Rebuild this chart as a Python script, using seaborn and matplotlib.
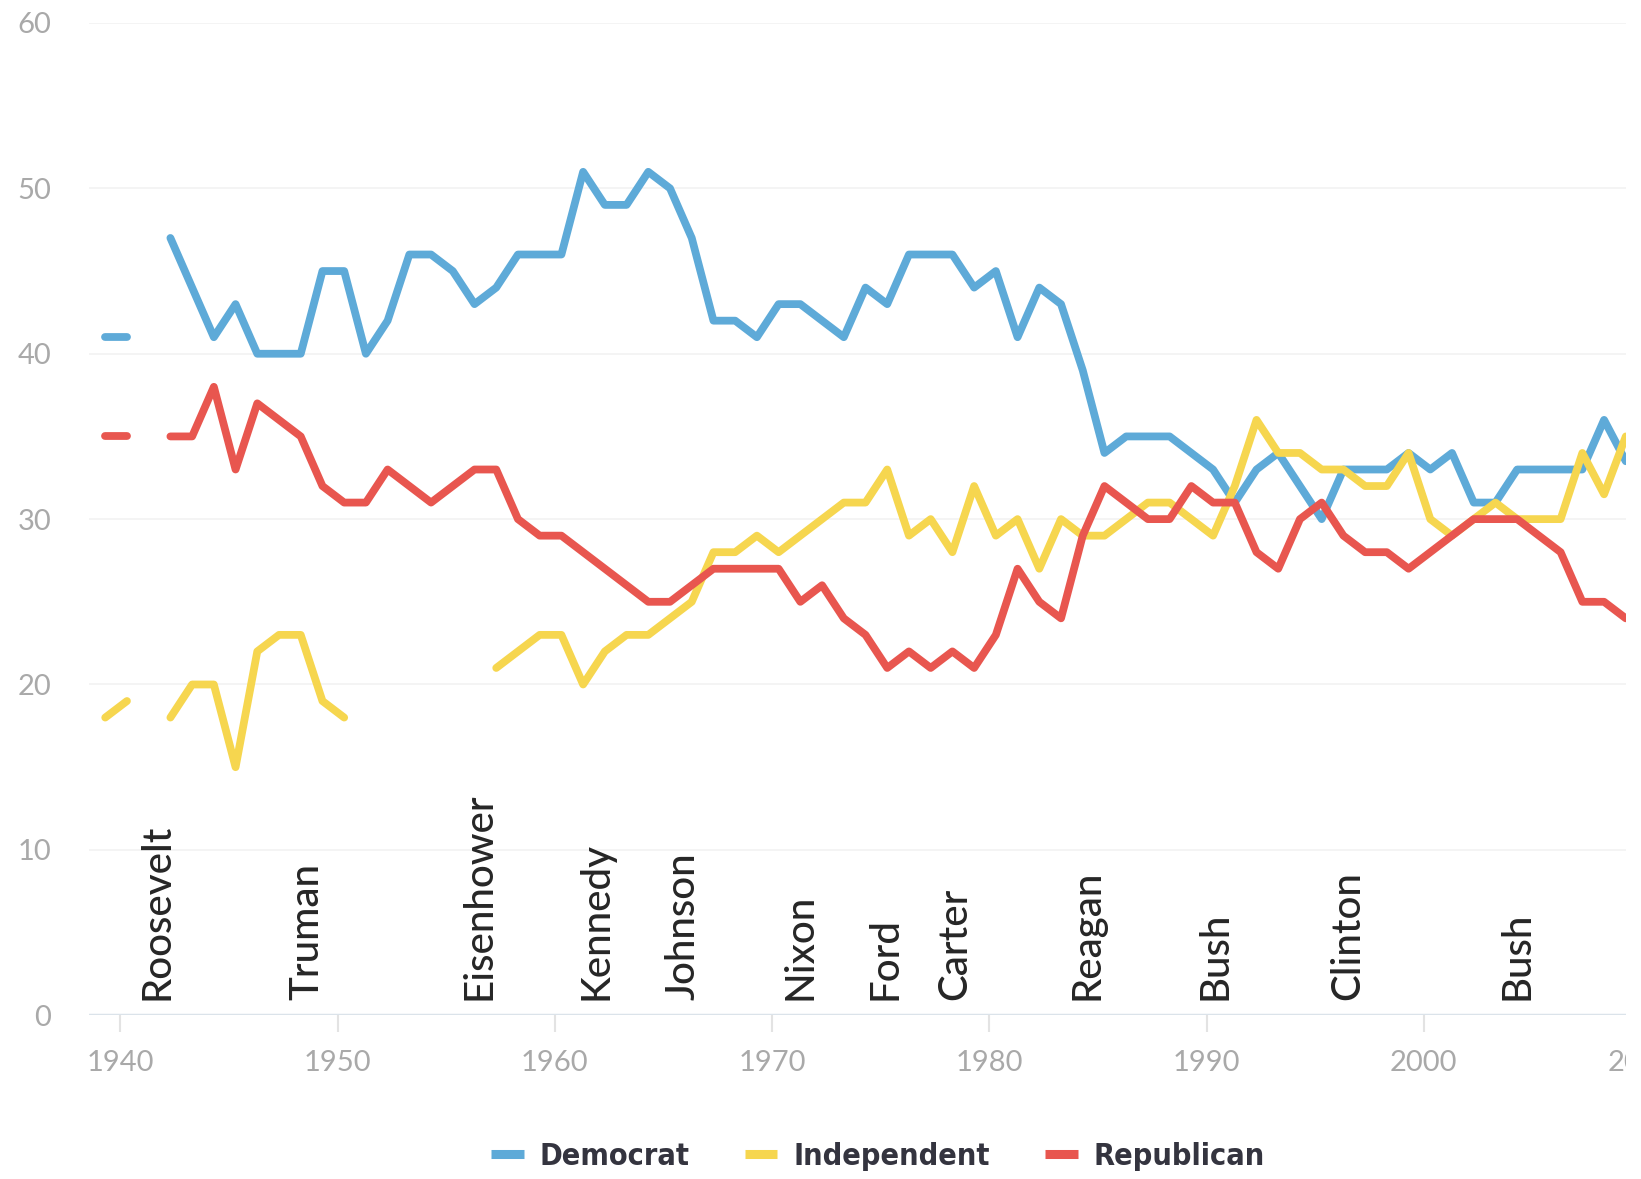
import numpy as np
import pandas as pd
import matplotlib
matplotlib.use("Agg")
import matplotlib.pyplot as plt
import seaborn as sns
from matplotlib import font_manager as fm
from matplotlib.lines import Line2D
from matplotlib.patches import Rectangle

nan = np.nan

# ---------------- data ----------------
years = list(range(1939, 2010))

democrat = [
    41, 41, nan, 47, 44, 41, 43, 40, 40, 40,      # 1939-1948
    45, 45, 40, 42, 46, 46, 45, 43, 44, 46,       # 1949-1958
    46, 46, 51, 49, 49, 51, 50, 47, 42, 42,       # 1959-1968
    41, 43, 43, 42, 41, 44, 43, 46, 46, 46,       # 1969-1978
    44, 45, 41, 44, 43, 39, 34, 35, 35, 35,       # 1979-1988
    34, 33, 31, 33, 34, 32, 30, 33, 33, 33,       # 1989-1998
    34, 33, 34, 31, 31, 33, 33, 33, 33, 36,       # 1999-2008
    33.5,                                         # 2009
]

independent = [
    18, 19, nan, 18, 20, 20, 15, 22, 23, 23,
    19, 18, nan, nan, nan, nan, nan, nan, 21, 22,
    23, 23, 20, 22, 23, 23, 24, 25, 28, 28,
    29, 28, 29, 30, 31, 31, 33, 29, 30, 28,
    32, 29, 30, 27, 30, 29, 29, 30, 31, 31,
    30, 29, 32, 36, 34, 34, 33, 33, 32, 32,
    34, 30, 29, 30, 31, 30, 30, 30, 34, 31.5,
    35,
]

republican = [
    35, 35, nan, 35, 35, 38, 33, 37, 36, 35,
    32, 31, 31, 33, 32, 31, 32, 33, 33, 30,
    29, 29, 28, 27, 26, 25, 25, 26, 27, 27,
    27, 27, 25, 26, 24, 23, 21, 22, 21, 22,
    21, 23, 27, 25, 24, 29, 32, 31, 30, 30,
    32, 31, 31, 28, 27, 30, 31, 29, 28, 28,
    27, 28, 29, 30, 30, 30, 29, 28, 25, 25,
    24,
]

parties = ["Democrat", "Independent", "Republican"]
presidents = ["Roosevelt", "Truman", "Eisenhower", "Kennedy", "Johnson", "Nixon",
              "Ford", "Carter", "Reagan", "Bush", "Clinton", "Bush"]
president_x = [1941.7, 1948.6, 1956.5, 1961.9, 1965.9, 1971.3,
               1975.2, 1978.4, 1984.5, 1990.4, 1996.5, 2004.3]
x_ticks = [1940, 1950, 1960, 1970, 1980, 1990, 2000, 2010]
y_ticks = [0, 10, 20, 30, 40, 50, 60]

palette = {"Democrat": "#5eaad8", "Independent": "#f6d64f", "Republican": "#e8564f"}

# ---------------- long table with line segments (gaps at missing years) ----------------
rows = []
for party, vals in zip(parties, [democrat, independent, republican]):
    seg = 0
    for yr, v in zip(years, vals):
        if np.isnan(v):
            seg += 1
            continue
        rows.append({"year": yr, "share": v, "party": party, "segment": f"{party}-{seg}"})
df = pd.DataFrame(rows)
df["xpos"] = df["year"] + 0.3   # annual values drawn slightly after the year mark

# ---------------- figure ----------------
sns.set_style("white")
plt.rcParams["font.family"] = ["Lato", "DejaVu Sans"]

fig = plt.figure(figsize=(16.41, 11.79), dpi=100)
ax = fig.add_axes([0.0542, 0.1389, 0.9458, 0.8416])

sns.lineplot(data=df, x="xpos", y="share", hue="party", units="segment",
             estimator=None, palette=palette, hue_order=parties,
             linewidth=5.6, legend=False, ax=ax,
             solid_capstyle="round", solid_joinstyle="round", zorder=3)

ax.set_xlim(1938.55, 2010.0)
ax.set_ylim(0, 60)
ax.set_xlabel("")
ax.set_ylabel("")

tick_font = dict(fontfamily="Lato", fontweight="normal", fontsize=21, color="#a9a9a9")
ax.set_xticks(x_ticks, labels=[str(t) for t in x_ticks], **tick_font)
ax.set_yticks(y_ticks, labels=[str(t) for t in y_ticks], **tick_font)
ax.tick_params(axis="x", length=12, width=1.5, color="#e3e3e3", pad=13, bottom=True)
ax.tick_params(axis="y", length=0, pad=27)

for s in ax.spines.values():
    s.set_visible(False)
ax.yaxis.grid(True, color="#f2f2f2", lw=1.2, zorder=0)
ax.xaxis.grid(False)
ax.axhline(0, color="#dbe3ea", lw=2.5, zorder=1)

for name, xp in zip(presidents, president_x):
    ax.text(xp, 0.9, name, rotation=90, ha="center", va="bottom",
            fontsize=29, fontfamily="Lato", fontweight="medium",
            color="#262626", zorder=4)

# ---------------- legend ----------------
names = {f.name for f in fm.fontManager.ttflist}
if "Liberation Sans Narrow" in names:
    leg_prop = fm.FontProperties(family="Liberation Sans Narrow", weight="bold", size=25)
else:
    leg_prop = fm.FontProperties(family="DejaVu Sans", stretch="condensed", weight="bold", size=22)
handles = [Line2D([], [], color=palette[p], lw=6.5, solid_capstyle="butt") for p in parties]
fig.legend(handles, parties, loc="center", bbox_to_anchor=(0.535, 0.0195), ncol=3,
           frameon=False, prop=leg_prop, handlelength=1.07, handletextpad=0.52,
           columnspacing=1.8, labelcolor="#34343f")

# the scan is cut off at the right edge
fig.add_artist(Rectangle((1626 / 1641, 0), 1, 1, transform=fig.transFigure,
                         facecolor="white", edgecolor="none", zorder=100))

fig.savefig("out.png", dpi=100, facecolor="white")
